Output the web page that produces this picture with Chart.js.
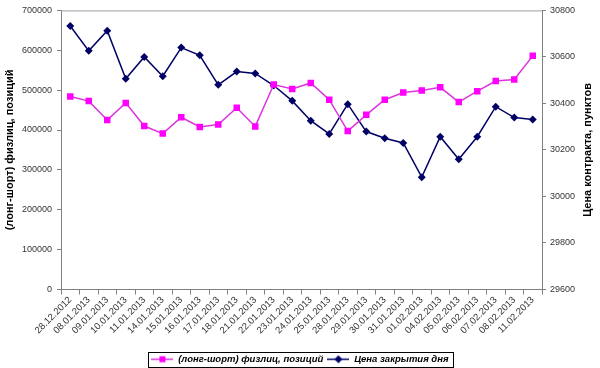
<!DOCTYPE html>
<html lang="ru">
<head>
<meta charset="UTF-8">
<title>Физлица и цена контракта</title>
<script src="https://cdn.jsdelivr.net/npm/chart.js"></script>
<style>
    body { margin: 0; background: #fff; }
    .wrap { width: 600px; height: 368px; }
</style>
</head>
<body>
<div class="wrap"><canvas id="chart"></canvas></div>
<script>
const dates = ['28.12.2012', '08.01.2013', '09.01.2013', '10.01.2013', '11.01.2013', '14.01.2013',
    '15.01.2013', '16.01.2013', '17.01.2013', '18.01.2013', '21.01.2013', '22.01.2013', '23.01.2013',
    '24.01.2013', '25.01.2013', '28.01.2013', '29.01.2013', '30.01.2013', '31.01.2013', '01.02.2013',
    '04.02.2013', '05.02.2013', '06.02.2013', '07.02.2013', '08.02.2013', '11.02.2013'];

// (лонг-шорт) физлиц, позиций
const netPositions = [484000, 472500, 425000, 468000, 410000, 391000, 432000, 407500, 414000, 456000,
    409000, 514000, 503000, 518000, 476000, 397500, 438000, 476000, 494000, 499000,
    507000, 470000, 497500, 523000, 526500, 586000];

// Цена закрытия дня
const closePrice = [30733, 30626, 30713, 30506, 30600, 30517, 30640, 30607, 30480, 30537,
    30529, 30477, 30411, 30326, 30269, 30397, 30279, 30250, 30230, 30083,
    30257, 30160, 30257, 30386, 30339, 30331];

const leftTitle = '(лонг-шорт) физлиц, позиций';
const rightTitle = 'Цена контракта, пунктов';

const font = 'Liberation Sans, Arial, sans-serif';

function legendIcon(line, fill, shape) {
    const c = document.createElement('canvas');
    c.width = 22; c.height = 9;
    const g = c.getContext('2d');
    g.strokeStyle = line; g.lineWidth = 1.5;
    g.beginPath(); g.moveTo(0, 4.5); g.lineTo(22, 4.5); g.stroke();
    g.fillStyle = fill;
    g.beginPath();
    if (shape === 'rect') {
        g.rect(8, 1.5, 6, 6);
    } else {
        g.moveTo(11, 0.5); g.lineTo(15, 4.5); g.lineTo(11, 8.5); g.lineTo(7, 4.5); g.closePath();
    }
    g.fill();
    return c;
}
const icons = [legendIcon('#dd33dd', '#ff00ff', 'rect'), legendIcon('#000066', '#000066', 'diamond')];

// titles, top border and legend frame
const extras = {
    id: 'extras',
    afterDraw(chart) {
        const ctx = chart.ctx;
        const a = chart.chartArea;
        ctx.save();
        ctx.strokeStyle = '#a0a0a0';
        ctx.lineWidth = 1;
        ctx.beginPath();
        ctx.moveTo(a.left, a.top + 0.5);
        ctx.lineTo(a.right, a.top + 0.5);
        ctx.stroke();

        ctx.fillStyle = '#000';
        ctx.font = 'bold 11px ' + font;
        ctx.textAlign = 'center';
        ctx.textBaseline = 'middle';
        const midY = (a.top + a.bottom) / 2;
        ctx.translate(10, midY);
        ctx.rotate(-Math.PI / 2);
        ctx.fillText(leftTitle, 0, 0);
        ctx.restore();

        ctx.save();
        ctx.fillStyle = '#000';
        ctx.font = 'bold 11px ' + font;
        ctx.textAlign = 'center';
        ctx.textBaseline = 'middle';
        ctx.translate(chart.width - 12, midY);
        ctx.rotate(-Math.PI / 2);
        ctx.fillText(rightTitle, 0, 0);
        ctx.restore();

        const boxes = chart.legend.legendHitBoxes;
        if (boxes && boxes.length) {
            const l = Math.min(...boxes.map(b => b.left));
            const r = Math.max(...boxes.map(b => b.left + b.width));
            const t = Math.min(...boxes.map(b => b.top));
            const bt = Math.max(...boxes.map(b => b.top + b.height));
            ctx.save();
            ctx.strokeStyle = '#000';
            ctx.lineWidth = 1;
            ctx.strokeRect(Math.round(l - 3) + 0.5, Math.round(t - 3) + 0.5, Math.round(r - l + 8), Math.round(bt - t + 5));
            ctx.restore();
        }
    }
};

new Chart(document.getElementById('chart'), {
    type: 'line',
    data: {
        labels: dates,
        datasets: [{
            label: '(лонг-шорт) физлиц, позиций',
            data: netPositions,
            yAxisID: 'y',
            borderColor: '#dd33dd',
            backgroundColor: '#ff00ff',
            borderWidth: 1.5,
            pointStyle: 'rect',
            pointRadius: 4.6,
            pointBorderWidth: 0,
            tension: 0
        }, {
            label: 'Цена закрытия дня',
            data: closePrice,
            yAxisID: 'y1',
            borderColor: '#000066',
            backgroundColor: '#000066',
            borderWidth: 1.5,
            pointStyle: 'rectRot',
            pointRadius: 4,
            pointBorderWidth: 0,
            tension: 0
        }]
    },
    options: {
        responsive: true,
        maintainAspectRatio: false,
        animation: false,
        layout: { padding: { top: 10, left: 0, right: 0, bottom: -6 } },
        plugins: {
            tooltip: { enabled: false },
            legend: {
                position: 'bottom',
                labels: {
                    usePointStyle: true,
                    pointStyleWidth: 22,
                    boxHeight: 9,
                    padding: 4,
                    color: '#000',
                    font: { family: font, size: 9.5, weight: 'bold', style: 'italic' },
                    generateLabels(chart) {
                        const items = Chart.defaults.plugins.legend.labels.generateLabels(chart);
                        items.forEach((it, i) => { it.pointStyle = icons[i]; });
                        return items;
                    }
                }
            }
        },
        scales: {
            x: {
                offset: true,
                grid: { offset: true, drawOnChartArea: false, tickLength: 5, color: '#808080' },
                border: { color: '#808080' },
                ticks: {
                    autoSkip: false, maxRotation: 45, minRotation: 45,
                    color: '#333', padding: 0,
                    font: { family: font, size: 9.5 }
                },
                afterFit(scale) { scale.height = 61; }
            },
            y: {
                position: 'left',
                min: 0, max: 700000,
                ticks: {
                    stepSize: 100000, color: '#333', padding: 5,
                    font: { family: font, size: 9 },
                    callback: v => String(v)
                },
                grid: { drawOnChartArea: false, tickLength: 4, color: '#808080' },
                border: { color: '#808080' },
                afterFit(scale) { scale.width = 61; }
            },
            y1: {
                position: 'right',
                min: 29600, max: 30800,
                ticks: {
                    stepSize: 200, color: '#333', padding: 4,
                    font: { family: font, size: 9 },
                    callback: v => String(v)
                },
                grid: { drawOnChartArea: false, tickLength: 4, color: '#808080' },
                border: { color: '#808080' },
                afterFit(scale) { scale.width = 58; }
            }
        }
    },
    plugins: [extras]
});
</script>
</body>
</html>
